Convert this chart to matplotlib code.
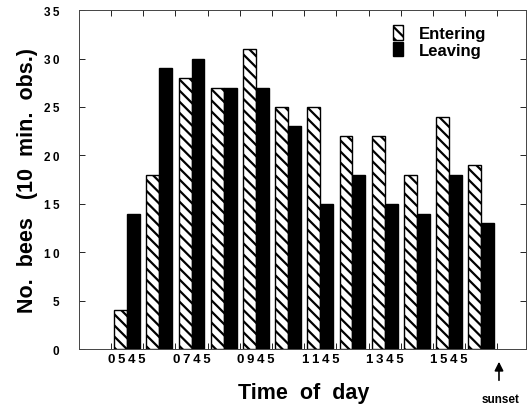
import numpy as np
import matplotlib
matplotlib.use('Agg')
import matplotlib.pyplot as plt

plt.rcParams['font.family'] = ['Liberation Sans', 'DejaVu Sans']
plt.rcParams['hatch.linewidth'] = 1.6

times = ['0545', '0645', '0745', '0845', '0945', '1045', '1145',
         '1245', '1345', '1445', '1545', '1645']
entering = [4, 18, 28, 27, 31, 25, 25, 22, 22, 18, 24, 19]
leaving = [14, 29, 30, 27, 27, 23, 15, 18, 15, 14, 18, 13]
yticks = [0, 5, 10, 15, 20, 25, 30, 35]

HS = '\u2009'  # thin space, to spread tick digits a little

x = np.arange(len(times))
w = 0.4

fig = plt.figure(figsize=(5.29, 4.10), dpi=100)
ax = fig.add_axes([0.149, 0.146, 0.846, 0.827])

ax.bar(x - w / 2, entering, w, color='white', edgecolor='black', hatch='\\\\\\',
       lw=1.0, label='Entering')
ax.bar(x + w / 2, leaving, w, color='black', edgecolor='black', lw=1.0,
       label='Leaving')

ax.set_xlim(-1.5, 12.4)
ax.set_ylim(0, 35)
ax.set_yticks(yticks)
ax.set_yticklabels([HS.join(str(v)) for v in yticks], fontsize=8.5, fontweight='bold')
ax.set_xticks(x[::2])
ax.set_xticklabels([HS.join(t) for t in times[::2]], fontsize=9.5, fontweight='bold')
ax.set_xticks(np.arange(-0.5, 12.4, 1), minor=True)

ax.tick_params(axis='y', direction='in', length=4, width=0.6, right=True, pad=14)
ax.tick_params(axis='x', which='major', length=0, pad=3)
ax.tick_params(axis='x', which='minor', direction='in', length=4, width=0.6, top=True)
for s in ax.spines.values():
    s.set_linewidth(0.7)
    s.set_color('#444444')

ax.set_ylabel('No.  bees   (10  min.  obs.)', fontsize=15.5, fontweight='bold')
ax.yaxis.set_label_coords(-0.092, 0.5)
ax.set_xlabel('Time  of  day', fontsize=15.5, fontweight='bold')
ax.xaxis.set_label_coords(0.502, -0.097)

ax.legend(loc='upper left', bbox_to_anchor=(0.702, 0.955), frameon=False,
          prop={'weight': 'bold', 'size': 12}, handlelength=0.6, handleheight=0.95,
          handletextpad=0.95, labelspacing=0.05, borderpad=0, borderaxespad=0)

ax.annotate('', xy=(11.55, -0.029), xycoords=('data', 'axes fraction'),
            xytext=(11.55, -0.1), textcoords=('data', 'axes fraction'),
            arrowprops=dict(arrowstyle='-|>', color='black', lw=1.2, mutation_scale=13))
ax.text(11.6, -0.156, 'sunset', transform=ax.get_xaxis_transform(),
        ha='center', va='baseline', fontsize=8.5, fontweight='bold')

fig.savefig('out.png', dpi=100)
